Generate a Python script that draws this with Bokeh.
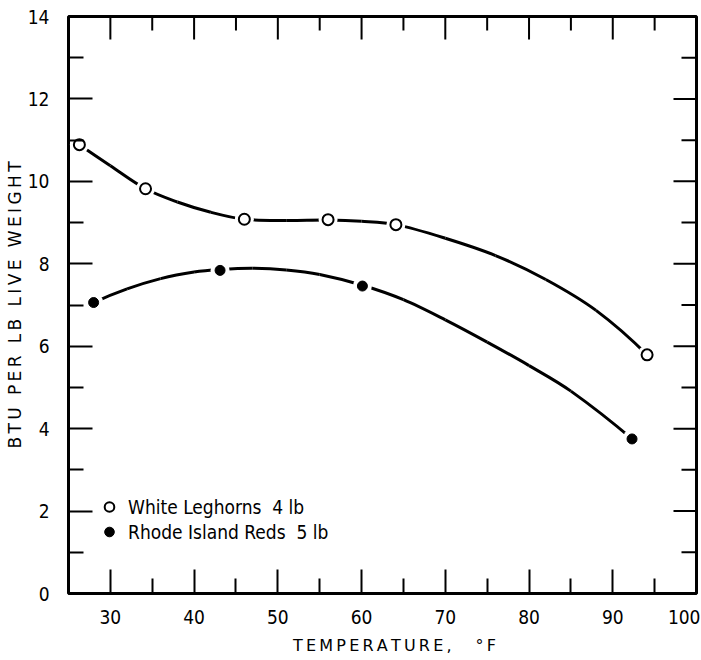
import math
from bokeh.plotting import figure
from bokeh.models import FixedTicker, Range1d, Legend, LegendItem
from bokeh.embed import file_html
from bokeh.resources import INLINE

# ---- measured points ----
wl_temp = [26.3, 34.2, 46.0, 56.0, 64.1, 94.1]
wl_btu = [10.89, 9.82, 9.08, 9.07, 8.95, 5.79]
rir_temp = [28.0, 43.1, 60.1, 92.3]
rir_btu = [7.06, 7.84, 7.46, 3.75]

# ---- hand-drawn fitted curves ----
wl_curve_temp = [26.3, 30.0, 34.2, 38.0, 42.0, 46.0, 51.0, 56.0, 60.0, 64.1,
                 70.0, 76.0, 82.0, 88.0, 94.1]
wl_curve_btu = [10.89, 10.38, 9.82, 9.50, 9.25, 9.08, 9.05, 9.06, 9.03, 8.95,
                8.62, 8.20, 7.62, 6.87, 5.79]
rir_curve_temp = [28.0, 32.0, 36.0, 40.0, 43.1, 47.0, 51.0, 55.0, 60.1, 65.0,
                  70.0, 75.0, 80.0, 85.0, 92.3]
rir_curve_btu = [7.06, 7.39, 7.64, 7.80, 7.86, 7.89, 7.85, 7.74, 7.48, 7.13,
                 6.64, 6.10, 5.53, 4.91, 3.75]

x_ticks = [30, 40, 50, 60, 70, 80, 90, 100]
x_minor = [35, 45, 55, 65, 75, 85, 95]
y_ticks = [0, 2, 4, 6, 8, 10, 12, 14]
y_minor = [1, 3, 5, 7, 9, 11, 13]

label_wl = "White Leghorns  4 lb"
label_rir = "Rhode Island Reds  5 lb"
x_title = "TEMPERATURE,"
x_unit = "\u00b0F"
y_title = "BTU PER LB LIVE WEIGHT"

NARROW = "Liberation Sans Narrow, DejaVu Sans Condensed, Liberation Sans"
TITLE_FONT = "DejaVu Sans"


def spaced(s):
    return "\u2009".join(s)


def bezier_from(xs, ys):
    """Cubic Hermite (in x) through the read curve points, as Bezier segments."""
    n = len(xs)
    m = [0.0] * n
    for i in range(1, n - 1):
        m[i] = (ys[i + 1] - ys[i - 1]) / (xs[i + 1] - xs[i - 1])
    c0 = (ys[1] - ys[0]) / (xs[1] - xs[0])
    c1 = (ys[-1] - ys[-2]) / (xs[-1] - xs[-2])
    m[0] = 2 * c0 - m[1]
    m[-1] = 2 * c1 - m[-2]
    out = dict(x0=[], y0=[], x1=[], y1=[], cx0=[], cy0=[], cx1=[], cy1=[])
    for i in range(n - 1):
        h = xs[i + 1] - xs[i]
        out["x0"].append(xs[i]); out["y0"].append(ys[i])
        out["x1"].append(xs[i + 1]); out["y1"].append(ys[i + 1])
        out["cx0"].append(xs[i] + h / 3.0)
        out["cy0"].append(ys[i] + m[i] * h / 3.0)
        out["cx1"].append(xs[i + 1] - h / 3.0)
        out["cy1"].append(ys[i + 1] - m[i + 1] * h / 3.0)
    return out


p = figure(width=700, height=660, output_backend="svg", toolbar_location=None,
           x_range=Range1d(25, 100), y_range=Range1d(0, 14),
           min_border_left=68, min_border_right=4, min_border_top=16, min_border_bottom=67)
p.background_fill_color = "white"
p.border_fill_color = "white"
p.outline_line_color = "black"
p.outline_line_width = 3
p.xgrid.visible = False
p.ygrid.visible = False

# curves
for xs, ys in ((wl_curve_temp, wl_curve_btu), (rir_curve_temp, rir_curve_btu)):
    b = bezier_from(xs, ys)
    p.bezier(x0=b["x0"], y0=b["y0"], x1=b["x1"], y1=b["y1"],
             cx0=b["cx0"], cy0=b["cy0"], cx1=b["cx1"], cy1=b["cy1"],
             line_color="black", line_width=3)

# halos that make the gaps around the points
p.scatter(wl_temp, wl_btu, size=19, fill_color="white", line_color=None)
p.scatter(rir_temp, rir_btu, size=19, fill_color="white", line_color=None)

r_wl = p.scatter(wl_temp, wl_btu, size=11, fill_color="white", line_color="black", line_width=2)
r_rir = p.scatter(rir_temp, rir_btu, size=10, fill_color="black", line_color="black", line_width=1)

# ticks on the top and right edges (inward)
y_top = p.y_range.end
x_right = p.x_range.end
p.ray(x=x_ticks[:-1], y=[y_top] * (len(x_ticks) - 1), length=23, length_units="screen",
      angle=-math.pi / 2, line_color="black", line_width=2, line_cap="butt")
p.ray(x=x_minor, y=[y_top] * len(x_minor), length=14, length_units="screen",
      angle=-math.pi / 2, line_color="black", line_width=2, line_cap="butt")
p.ray(x=[x_right] * (len(y_ticks) - 2), y=y_ticks[1:-1], length=23, length_units="screen",
      angle=math.pi, line_color="black", line_width=2, line_cap="butt")
p.ray(x=[x_right] * len(y_minor), y=y_minor, length=15, length_units="screen",
      angle=math.pi, line_color="black", line_width=2, line_cap="butt")


def style_axis(ax, ticks, minor):
    ax.ticker = FixedTicker(ticks=ticks, minor_ticks=minor)
    ax.axis_line_color = None
    ax.major_tick_in = 24
    ax.major_tick_out = 0
    ax.minor_tick_in = 15
    ax.minor_tick_out = 0
    ax.major_tick_line_color = "black"
    ax.major_tick_line_width = 2
    ax.minor_tick_line_color = "black"
    ax.minor_tick_line_width = 2
    ax.major_label_text_font = NARROW
    ax.major_label_text_font_size = "19px"
    ax.major_label_text_color = "black"
    ax.axis_label_text_color = "black"
    ax.axis_label_text_font = TITLE_FONT
    ax.axis_label_text_font_style = "normal"


xa = p.xaxis[0]
style_axis(xa, x_ticks, x_minor)
xa.major_label_standoff = 16
xa.axis_label = "\u2003\u2002" + spaced(x_title) + "\u2003\u2002" + spaced(x_unit)
xa.axis_label_text_font_size = "16px"
xa.axis_label_standoff = 9

ya = p.yaxis[0]
style_axis(ya, y_ticks, y_minor)
ya.major_label_standoff = 19
ya.axis_label = spaced(y_title)
ya.axis_label_text_font_size = "17px"
ya.axis_label_standoff = 0

legend = Legend(items=[LegendItem(label=label_wl, renderers=[r_wl]),
                       LegendItem(label=label_rir, renderers=[r_rir])],
                location=(29, 49), orientation="vertical",
                padding=0, margin=0, spacing=0,
                glyph_width=24, glyph_height=25, label_height=25, label_standoff=7,
                label_text_font=NARROW, label_text_font_size="19px",
                label_text_color="black",
                border_line_color=None, background_fill_alpha=0)
p.add_layout(legend, "center")

open("out.html", "w").write(file_html(p, INLINE))
